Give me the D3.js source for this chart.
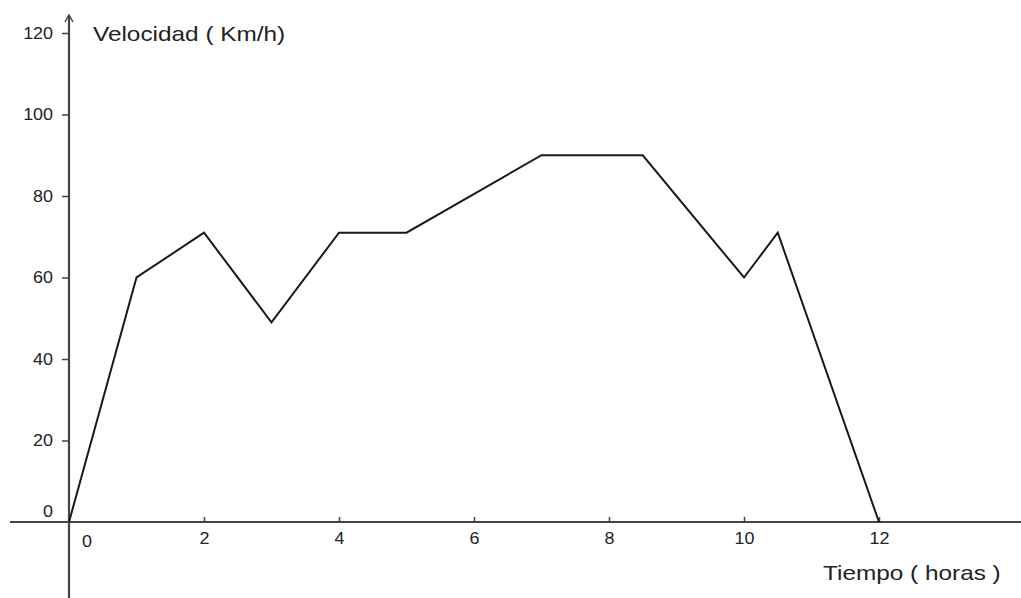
<!DOCTYPE html>
<html>
<head>
<meta charset="utf-8">
<script src="https://cdn.jsdelivr.net/npm/d3@7"></script>
<style>
  body { margin: 0; background: #fff; }
  text { font-family: "Liberation Sans", Arial, sans-serif; fill: #222; }
</style>
</head>
<body>
<div id="chart"></div>
<script>
// data
const hours = [0, 1, 2, 3, 4, 5, 7, 8.5, 10, 10.5, 12];
const speed = [0, 60, 71, 49, 71, 71, 90, 90, 60, 71, 0];
const xTicks = [2, 4, 6, 8, 10, 12];
const yTicks = [20, 40, 60, 80, 100, 120];

const width = 1021;
const height = 598;

const svg = d3.select("#chart")
    .append("svg")
    .attr("width", width)
    .attr("height", height);

const x = d3.scaleLinear().domain([0, 12]).range([69, 879]);
const y = d3.scaleLinear().domain([0, 120]).range([522, 33]);

const axisColor = "#444";

// axis lines
svg.append("line")
    .attr("x1", 10).attr("x2", width)
    .attr("y1", y(0)).attr("y2", y(0))
    .attr("stroke", axisColor).attr("stroke-width", 2.2);

svg.append("line")
    .attr("x1", x(0)).attr("x2", x(0))
    .attr("y1", 16).attr("y2", height)
    .attr("stroke", axisColor).attr("stroke-width", 2.2);

// little arrow on top of the vertical axis
svg.append("path")
    .attr("d", `M${x(0) - 4},${22} L${x(0)},${15} L${x(0) + 4},${22}`)
    .attr("fill", "none")
    .attr("stroke", axisColor)
    .attr("stroke-width", 1.5);

// x ticks
const xAxis = svg.append("g")
    .attr("transform", `translate(0,${y(0)})`)
    .call(d3.axisBottom(x).tickValues(xTicks).tickSize(-5));
xAxis.select(".domain").remove();
xAxis.selectAll(".tick line").attr("stroke", axisColor).attr("stroke-width", 1.5);
xAxis.selectAll(".tick text")
    .attr("font-size", 16)
    .attr("fill", "#222")
    .attr("x", 0)
    .attr("y", 11)
    .attr("dy", "0.71em")
    .attr("transform", "scale(1.12,1)");

// y ticks
const yAxis = svg.append("g")
    .attr("transform", `translate(${x(0)},0)`)
    .call(d3.axisLeft(y).tickValues(yTicks).tickSize(7));
yAxis.select(".domain").remove();
yAxis.selectAll(".tick line").attr("stroke", axisColor).attr("stroke-width", 1.5);
yAxis.selectAll(".tick text")
    .attr("font-size", 16)
    .attr("fill", "#222")
    .attr("transform", "scale(1.12,1)")
    .attr("x", -16 / 1.12);

// the two zero labels
svg.append("text")
    .attr("transform", `translate(${x(0) + 18},${y(0) + 25}) scale(1.12,1)`)
    .attr("text-anchor", "middle")
    .attr("font-size", 16)
    .text("0");
svg.append("text")
    .attr("transform", `translate(${x(0) - 21},${y(0) - 5}) scale(1.12,1)`)
    .attr("text-anchor", "middle")
    .attr("font-size", 16)
    .text("0");

// axis titles
svg.append("text")
    .attr("transform", `translate(93,41) scale(1.16,1)`)
    .attr("font-size", 21)
    .text("Velocidad ( Km/h)");

svg.append("text")
    .attr("transform", `translate(823,580) scale(1.16,1)`)
    .attr("font-size", 21)
    .text("Tiempo ( horas )");

// speed line
const line = d3.line()
    .x((d, i) => x(hours[i]))
    .y(d => y(d));

svg.append("path")
    .datum(speed)
    .attr("d", line)
    .attr("fill", "none")
    .attr("stroke", "#1a1a1a")
    .attr("stroke-width", 2)
    .attr("stroke-linejoin", "miter");
</script>
</body>
</html>
